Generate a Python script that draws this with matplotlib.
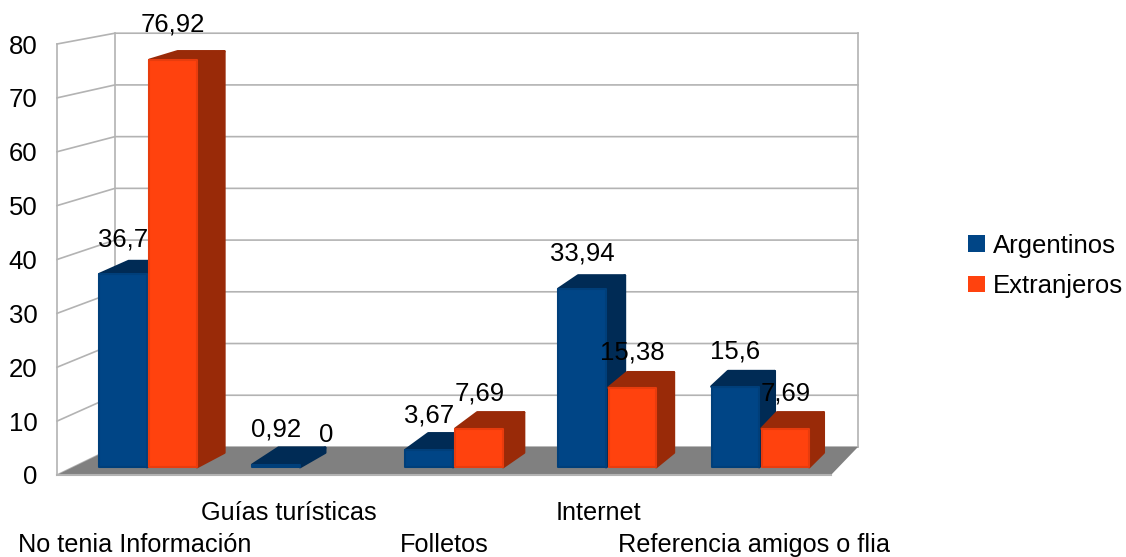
import matplotlib
matplotlib.use('Agg')
import matplotlib.pyplot as plt
from matplotlib.patches import Patch

plt.rcParams['font.family'] = ['Liberation Sans', 'DejaVu Sans']

categories = ['No tenia Información', 'Guías turísticas', 'Folletos', 'Internet', 'Referencia amigos o flia']
argentinos = [36.7, 0.92, 3.67, 33.94, 15.6]
extranjeros = [76.92, 0, 7.69, 15.38, 7.69]
y_ticks = [0, 10, 20, 30, 40, 50, 60, 70, 80]

# fake 3D: everything is pulled towards one vanishing point (in data units)
VP_X, VP_Y = 9.354, 130.1
WALL = 0.04
BAR_FRONT = 0.0114
BAR_BACK = 0.032
BAR_W = 0.327
BAR_GAP = 0.008
BAR_SHIFT = -0.012
BEVEL = 0.5

BLUE = '#004586'
BLUE_EDGE = '#003f7a'
BLUE_DARK = '#002b55'
ORANGE = '#ff420e'
ORANGE_EDGE = '#e83c0d'
ORANGE_DARK = '#992a08'
GRID = '#b3b3b3'
FLOOR = '#808080'
FONT = 18.5


def proj(x, y, s):
    return x + s * (VP_X - x), y + s * (VP_Y - y)


def face(ax, corners, s_list, fc, ec, lw, z):
    pts = [proj(x, y, s) for (x, y), s in zip(corners, s_list)]
    ax.fill([p[0] for p in pts], [p[1] for p in pts], facecolor=fc, edgecolor=ec,
            linewidth=lw, joinstyle='round', clip_on=False, zorder=z)


def draw_bar(ax, left, value, fc, ec, dark, z):
    right = left + BAR_W - BAR_GAP
    left = left + BAR_GAP
    top = max(value - BEVEL, 0.2)
    # right side and top first, the front face goes over them
    face(ax, [(right, 0), (right, value), (right, value), (right, 0)],
         [BAR_FRONT, BAR_FRONT, BAR_BACK, BAR_BACK], dark, dark, 2, z)
    face(ax, [(left, top), (right, top), (right, value), (left, value)],
         [BAR_FRONT, BAR_FRONT, BAR_BACK, BAR_BACK], dark, dark, 2, z)
    face(ax, [(left, 0), (right, 0), (right, top), (left, top)],
         [BAR_FRONT] * 4, fc, ec, 1.5, z + 0.1)


fig = plt.figure(figsize=(11.26, 5.57), dpi=100)
ax = fig.add_axes([57 / 1126, 82 / 557, 774 / 1126, 431 / 557])
ax.set_xlim(0, len(categories))
ax.set_ylim(0, 80)
for sp in ax.spines.values():
    sp.set_visible(False)

# grid on the left wall and the back wall
for v in y_ticks:
    bx0, by0 = proj(0, v, WALL)
    bx1, by1 = proj(len(categories), v, WALL)
    ax.plot([0, bx0, bx1], [v, by0, by1], color=GRID, lw=1.2, clip_on=False, zorder=1)
for x in [0, len(categories)]:
    s = 0 if x == 0 else WALL
    x0, y0 = proj(x, 0, s)
    x1, y1 = proj(x, 80, s)
    ax.plot([x0, x1], [y0, y1], color=GRID, lw=1.2, clip_on=False, zorder=1)
x0, y0 = proj(0, 0, WALL)
x1, y1 = proj(0, 80, WALL)
ax.plot([x0, x1], [y0, y1], color=GRID, lw=1.2, clip_on=False, zorder=1)

# floor
n = len(categories)
face(ax, [(0, 0), (n, 0), (n, 0), (0, 0)], [0, 0, WALL, WALL], FLOOR, FLOOR, 0, 2)
ax.plot([0, n], [0, 0], color=GRID, lw=1.5, clip_on=False, zorder=2.5)

for i in range(n):
    centre = i + 0.5 + BAR_SHIFT
    draw_bar(ax, centre - BAR_W, argentinos[i], BLUE, BLUE_EDGE, BLUE_DARK, 3 + i)
    if extranjeros[i] > 0:
        draw_bar(ax, centre, extranjeros[i], ORANGE, ORANGE_EDGE, ORANGE_DARK, 3.5 + i)
    for left, val, z in [(centre - BAR_W, argentinos[i], 3.3 + i), (centre, extranjeros[i], 10)]:
        ax.annotate(f'{val:g}'.replace('.', ','), proj(left + BAR_W / 2, val, BAR_FRONT),
                    xytext=(0, 23.3), textcoords='offset points', ha='center', va='center',
                    fontsize=FONT, annotation_clip=False, zorder=z)

ax.set_yticks(y_ticks)
ax.set_yticklabels([str(v) for v in y_ticks], fontsize=FONT)
ax.tick_params(axis='y', length=0, pad=14)
ax.set_xticks([i + 0.5 for i in range(n)])
ax.set_xticklabels(categories, fontsize=18.2)
ax.tick_params(axis='x', length=0)
for i, tick in enumerate(ax.xaxis.get_major_ticks()):
    tick.set_pad(42 if i % 2 == 0 else 19)

handles = [Patch(facecolor=BLUE, label='Argentinos'), Patch(facecolor=ORANGE, label='Extranjeros')]
fig.legend(handles=handles, loc='center left', bbox_to_anchor=(968 / 1126, 1 - 266 / 557),
           frameon=False, fontsize=FONT, handlelength=0.667, handleheight=0.63,
           handletextpad=0.31, labelspacing=0.63, borderpad=0, borderaxespad=0)

fig.savefig('out.png', dpi=100)
